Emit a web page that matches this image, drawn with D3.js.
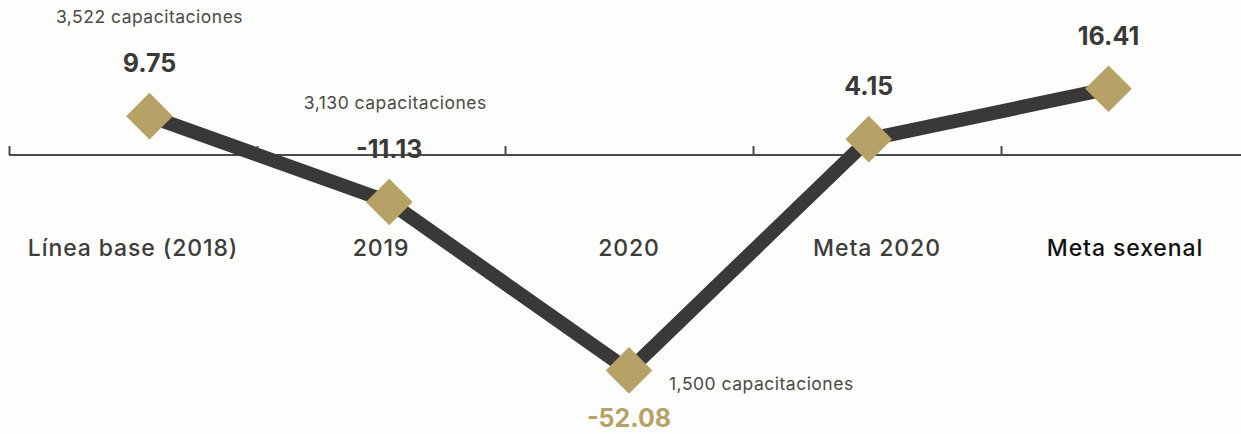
<!DOCTYPE html>
<html><head><meta charset="utf-8">
<script src="https://cdn.jsdelivr.net/npm/d3@7"></script>
<style>
html,body{margin:0;padding:0;background:#fdfdfb;}
svg{display:block;font-family:"Inter","Open Sans",sans-serif;}
</style></head><body>
<svg id="chart" width="1241" height="434"></svg>
<script>
const categories = ["Línea base (2018)", "2019", "2020", "Meta 2020", "Meta sexenal"];
const values = [9.75, -11.13, -52.08, 4.15, 16.41];
const valueLabels = ["9.75", "-11.13", "-52.08", "4.15", "16.41"];
const notes = ["3,522 capacitaciones", "3,130 capacitaciones", "1,500 capacitaciones", "", ""];

const W = 1241, H = 434;
const svg = d3.select("#chart");
svg.append("rect").attr("width", W).attr("height", H).attr("fill", "#fdfdfb");

const xBand = d3.scaleBand().domain(categories).range([9, 1249]);
const xPt = d3.scalePoint().domain(categories).range([9, 1249]).padding(0.586);
const y = d3.scaleLinear().domain([-60, 20]).range([403, 74]);

const ink = "#3a3937", gold = "#b6a267";
const axisY = Math.round(y(0)) - 1;

// axis line + ticks (upward)
svg.append("line").attr("x1", 9).attr("x2", W).attr("y1", axisY).attr("y2", axisY)
  .attr("stroke", "#4a4a48").attr("stroke-width", 2);
svg.selectAll(".tick").data(categories).enter().append("line")
  .attr("x1", d => xBand(d) + 0.5).attr("x2", d => xBand(d) + 0.5)
  .attr("y1", axisY - 9).attr("y2", axisY)
  .attr("stroke", "#4a4a48").attr("stroke-width", 2);

// category labels
svg.selectAll(".cat").data(categories).enter().append("text")
  .attr("x", d => xBand(d) + xBand.bandwidth() / 2)
  .attr("y", 256)
  .attr("text-anchor", "middle")
  .attr("font-size", 23).attr("font-weight", 500)
  .attr("letter-spacing", 0.9)
  .attr("fill", (d, i) => i === categories.length - 1 ? "#111" : "#3d3c3a")
  .text(d => d);

const data = categories.map((c, i) => ({c, v: values[i], lab: valueLabels[i], note: notes[i], i}));
const minV = d3.min(values);
const labelY = d => d.v === minV ? y(d.v) + 57 : y(d.v) - 44;

// line
const line = d3.line().x(d => xPt(d.c)).y(d => y(d.v));
svg.append("path").datum(data).attr("d", line)
  .attr("fill", "none").attr("stroke", ink).attr("stroke-width", 14)
  .attr("stroke-linejoin", "round");

// diamonds
svg.selectAll(".mk").data(data).enter().append("rect")
  .attr("x", -16.5).attr("y", -16.5).attr("width", 33).attr("height", 33)
  .attr("fill", gold)
  .attr("transform", d => `translate(${xPt(d.c)},${y(d.v)}) rotate(45)`);

// value labels
svg.selectAll(".val").data(data).enter().append("text")
  .attr("x", d => xPt(d.c))
  .attr("y", labelY)
  .attr("text-anchor", "middle")
  .attr("font-size", 25).attr("font-weight", 700)
  .attr("fill", d => d.v === minV ? gold : ink)
  .text(d => d.lab);

// annotations
const noteData = data.filter(d => d.note);
svg.selectAll(".note").data(noteData).enter().append("text")
  .attr("x", d => d.v === minV ? xPt(d.c) + 40 : xPt(d.c) + (d.i === 0 ? 0 : 6))
  .attr("y", d => d.v === minV ? y(d.v) + 20 : labelY(d) - 49)
  .attr("text-anchor", d => d.v === minV ? "start" : "middle")
  .attr("font-size", 17.5).attr("font-weight", 400).attr("letter-spacing", 0.5)
  .attr("fill", "#4a4a48")
  .text(d => d.note);
</script>
</body></html>
